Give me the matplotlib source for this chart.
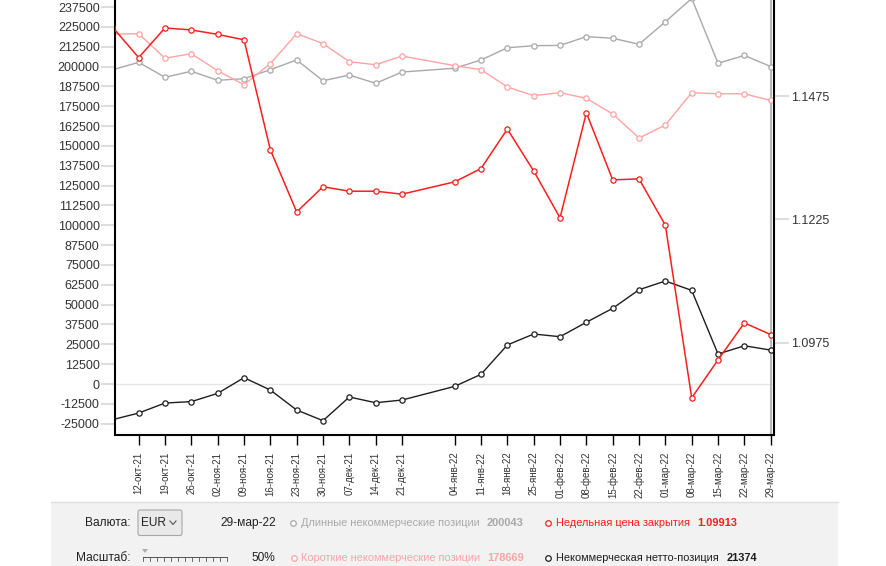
import numpy as np
import pandas as pd
import matplotlib
matplotlib.use("Agg")
import matplotlib.pyplot as plt
from matplotlib.patches import Rectangle, FancyBboxPatch, Polygon

plt.rcParams['font.family'] = ['Liberation Sans', 'DejaVu Sans']

# --- данные ---
dates = pd.to_datetime([
    "2021-10-05", "2021-10-12", "2021-10-19", "2021-10-26", "2021-11-02",
    "2021-11-09", "2021-11-16", "2021-11-23", "2021-11-30", "2021-12-07",
    "2021-12-14", "2021-12-21", "2022-01-04", "2022-01-11", "2022-01-18",
    "2022-01-25", "2022-02-01", "2022-02-08", "2022-02-15", "2022-02-22",
    "2022-03-01", "2022-03-08", "2022-03-15", "2022-03-22", "2022-03-29"])
date_labels = [
    "05-окт-21", "12-окт-21", "19-окт-21", "26-окт-21", "02-ноя-21",
    "09-ноя-21", "16-ноя-21", "23-ноя-21", "30-ноя-21", "07-дек-21",
    "14-дек-21", "21-дек-21", "04-янв-22", "11-янв-22", "18-янв-22",
    "25-янв-22", "01-фев-22", "08-фев-22", "15-фев-22", "22-фев-22",
    "01-мар-22", "08-мар-22", "15-мар-22", "22-мар-22", "29-мар-22"]

long_pos = [198000, 202700, 193300, 197100, 191400, 192400, 198100, 204200,
            191100, 194700, 189500, 196600, 199000, 204200, 211900, 213200,
            213400, 218900, 217900, 214100, 228300, 243000, 202100, 207100,
            200043]
short_pos = [220400, 220800, 205300, 208200, 197400, 188600, 201900, 220800,
             214500, 203100, 201200, 206700, 200600, 198100, 187200, 181700,
             183600, 180000, 170200, 155000, 163200, 183600, 182900, 182900,
             178669]
net_pos = [-22500, -18300, -12000, -11100, -5900, 4000, -3800, -16400,
           -23100, -8200, -11800, -10100, -1500, 6100, 24600, 31500,
           29800, 38900, 47700, 59400, 64900, 59000, 18900, 24100, 21374]
close_price = [1.1615, 1.1553, 1.1613, 1.1609, 1.1600, 1.1589, 1.1366, 1.1240,
               1.1291, 1.1282, 1.1282, 1.1276, 1.1301, 1.1328, 1.1408, 1.1323,
               1.1228, 1.1441, 1.1305, 1.1307, 1.1213, 1.0863, 1.0940, 1.1015,
               1.09913]

left_ticks = np.arange(-25000, 237501, 12500)
right_ticks = [1.0975, 1.1225, 1.1475]

C_LONG = "#a9a9a9"
C_SHORT = "#ffa3a3"
C_PRICE = "#fa1e1e"
C_NET = "#1e1e1e"

W, H = 887, 566
fig = plt.figure(figsize=(W / 100, H / 100), dpi=100)
fig.patch.set_facecolor("white")

ax = fig.add_axes([115 / W, 131 / H, 659 / W, 435 / H])
ax.set_zorder(1)
ax.patch.set_visible(False)
ax2 = ax.twinx()
ax2.set_zorder(2)
ax2.patch.set_visible(False)

mk = dict(marker="o", ms=3.8, mew=0.9, mfc="white")
ax.axhline(0, color="#e6e6e6", lw=1, zorder=0)
ax.axvline(dates[-1], color="#b8b8b8", lw=1.5, zorder=0.5)
ax.plot(dates, long_pos, color=C_LONG, mec=C_LONG, lw=1.0, **mk)
ax.plot(dates, short_pos, color=C_SHORT, mec=C_SHORT, lw=1.0, **mk)
ax.plot(dates, net_pos, color=C_NET, mec=C_NET, lw=1.0, **mk)
ax2.plot(dates, close_price, color=C_PRICE, mec=C_PRICE, lw=1.1, **mk)

ax.set_xlim(dates[0] + pd.Timedelta(hours=17), dates[-1] + pd.Timedelta(hours=21))
ax.set_ylim(-32140, 242000)
ax2.set_ylim(1.07877, 1.16697)

ax.set_yticks(left_ticks)
ax.set_yticklabels([str(v) for v in left_ticks])
ax2.set_yticks(right_ticks)
ax2.set_yticklabels([f"{v:.4f}" for v in right_ticks])
ax.set_xticks(dates[1:])
ax.set_xticklabels(date_labels[1:], rotation=90)

ax.tick_params(axis="y", length=10, width=1.5, color="#dddddd", labelsize=9,
               labelcolor="#333333", pad=1)
ax2.tick_params(axis="y", length=11, width=1.5, color="#dddddd", labelsize=9,
                labelcolor="#333333", pad=1)
ax.tick_params(axis="x", length=7, width=1, color="black", labelsize=7,
               labelcolor="#333333", pad=5)

for a in (ax, ax2):
    for s in a.spines.values():
        s.set_visible(False)
ax.spines["left"].set_visible(True)
ax.spines["bottom"].set_visible(True)
ax2.spines["right"].set_visible(True)
for s in (ax.spines["left"], ax.spines["bottom"], ax2.spines["right"]):
    s.set_color("black")
    s.set_linewidth(1.5)

# --- нижняя панель ---
p = fig.add_axes([0, 0, 1, 66 / H])
p.set_xlim(0, W)
p.set_ylim(H, 500)
p.axis("off")
p.add_patch(Rectangle((51, 502), 787, 70, facecolor="#f2f2f2", edgecolor="none"))
p.plot([51, 838], [502, 502], color="#dedede", lw=1)

fs = 8.6
fl = 7.9
r1, r2 = 523, 558
p.text(131, r1, "Валюта:", ha="right", va="center", fontsize=fs, color="#222222")
p.add_patch(FancyBboxPatch((138, 510), 44, 25.5, boxstyle="round,pad=0,rounding_size=2",
                           facecolor="#e9e9e9", edgecolor="#a8a8a8", lw=0.8))
p.text(141, r1, "EUR", ha="left", va="center", fontsize=fs, color="#222222")
p.plot([170, 173, 176], [521, 524.5, 521], color="#555555", lw=0.8)
p.text(220, r1, "29-мар-22", ha="left", va="center", fontsize=fs, color="#222222")

p.text(131, r2, "Масштаб:", ha="right", va="center", fontsize=fs, color="#222222")
p.plot([143, 227], [556.5, 556.5], color="#555555", lw=0.7)
for xx in np.linspace(143, 227, 13):
    p.plot([xx, xx], [556.5, 561], color="#555555", lw=0.6)
p.add_patch(Polygon([[142, 549], [148, 549], [145, 553]], closed=True,
                    facecolor="#b0b0b0", edgecolor="none"))
p.text(275, r2, "50%", ha="right", va="center", fontsize=fs, color="#222222")

legend = [
    (293.5, r1, "Длинные некоммерческие позиции", "200043", 487, C_LONG),
    (548.5, r1, "Недельная цена закрытия", "1.09913", 697, C_PRICE),
    (294, r2, "Короткие некоммерческие позиции", "178669", 487, C_SHORT),
    (548.5, r2, "Некоммерческая нетто-позиция", "21374", 727, C_NET),
]
for mx, my, label, num, nx, col in legend:
    p.plot([mx], [my], marker="o", ms=4, mew=0.9, mfc="white", mec=col)
    p.text(mx + 7.5, my, label, ha="left", va="center", fontsize=fl, color=col)
    p.text(nx, my, num, ha="left", va="center", fontsize=fl, color=col,
           fontweight="bold")

fig.savefig("out.png", dpi=100)
